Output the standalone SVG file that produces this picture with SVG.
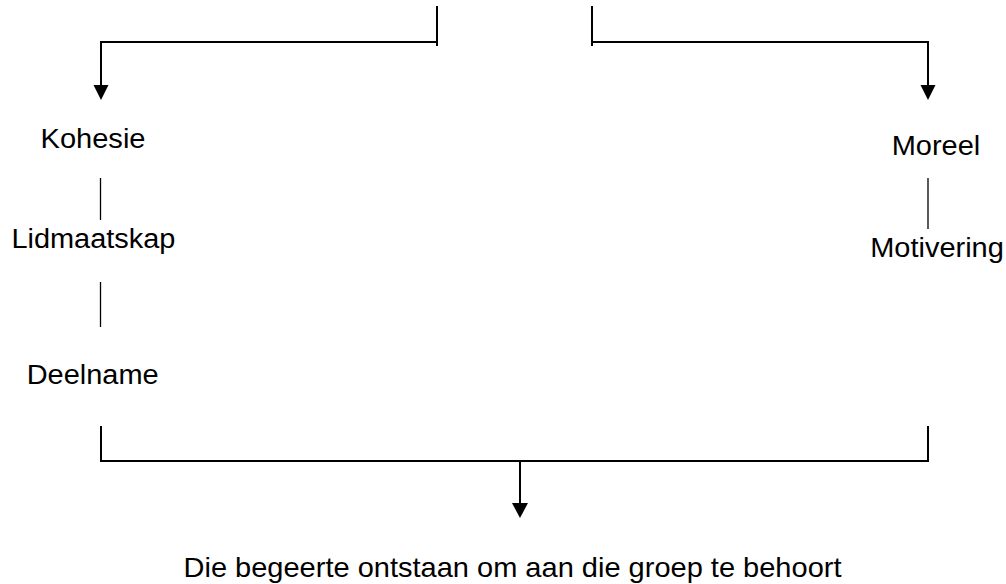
<svg xmlns="http://www.w3.org/2000/svg" width="1006" height="584" viewBox="0 0 1006 584">
<defs>
<style>
.t{font-family:"Liberation Sans",Arial,sans-serif;font-size:27px;fill:#000;text-anchor:middle}
.c{stroke:#000;stroke-width:2;fill:none}
.s{stroke:#000;stroke-width:1.3;fill:none}
.h{fill:#000}
</style>
</defs>
<rect width="1006" height="584" fill="#fff"/>
<g id="connectors">
<path class="c" d="M437,6 V46 M437,42 H101 V86" />
<path class="h" d="M93.5,85 L108.5,85 L101,100 Z"/>
<path class="c" d="M592,6 V46 M592,42 H928 V86" />
<path class="h" d="M920.5,85 L935.5,85 L928,100 Z"/>
<path class="s" d="M100.5,178 V220" />
<path class="s" d="M100.5,282 V327" />
<path class="s" d="M928,178 V229" />
<path class="c" d="M101,426 V461 H928 V426 M520,461 V504" />
<path class="h" d="M512,503 L528,503 L520,518 Z"/>
</g>
<g id="kohesie"><text class="t" x="93" y="147.5" textLength="105" lengthAdjust="spacingAndGlyphs">Kohesie</text></g>
<g id="lidmaatskap"><text class="t" x="93.4" y="248" textLength="164" lengthAdjust="spacingAndGlyphs">Lidmaatskap</text></g>
<g id="deelname"><text class="t" x="92.7" y="384" textLength="132" lengthAdjust="spacingAndGlyphs">Deelname</text></g>
<g id="moreel"><text class="t" x="936" y="155" textLength="88.6" lengthAdjust="spacingAndGlyphs">Moreel</text></g>
<g id="motivering"><text class="t" x="937" y="257" textLength="133.7" lengthAdjust="spacingAndGlyphs">Motivering</text></g>
<g id="result"><text class="t" x="512.5" y="576.5" style="font-size:28px" textLength="658" lengthAdjust="spacingAndGlyphs">Die begeerte ontstaan om aan die groep te behoort</text></g>
</svg>
